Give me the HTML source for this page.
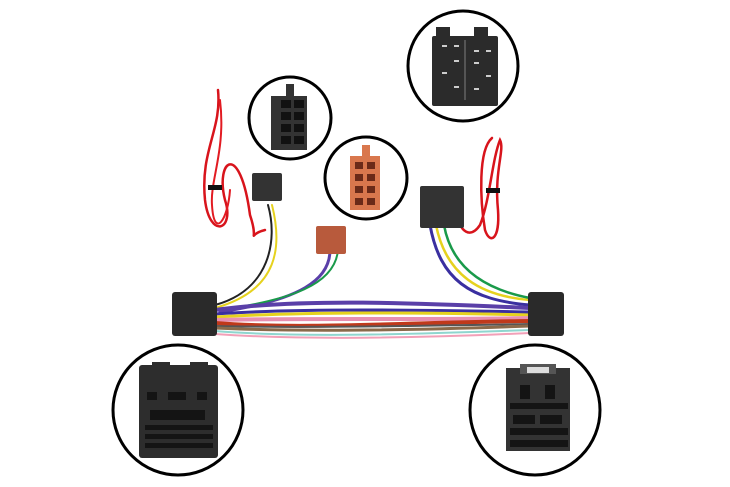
<!DOCTYPE html>
<html><head><style>body{margin:0;background:#fff}svg{display:block}</style></head><body>
<svg width="730" height="487" viewBox="0 0 730 487" xmlns="http://www.w3.org/2000/svg">
<rect width="730" height="487" fill="#fff"/>
<g fill="none" stroke-linecap="round">
<path d="M218 90 C222 130 200 150 205 200 C210 240 235 230 225 200 C215 160 240 140 250 215 C260 245 245 235 265 230" stroke="#d8141c" stroke-width="2.5"/>
<path d="M220 100 C226 150 210 180 212 205 C214 240 228 220 230 190" stroke="#e21b22" stroke-width="2"/>
<path d="M492 138 C478 150 480 200 485 230 C490 245 500 240 498 210 C494 170 505 150 500 140 C492 160 490 200 480 225 C470 240 460 230 458 218" stroke="#d8141c" stroke-width="2.5"/>
<path d="M268 205 C278 240 270 290 215 305" stroke="#222" stroke-width="2"/>
<path d="M272 205 C282 245 280 290 215 308" stroke="#e6d21e" stroke-width="2"/>
<path d="M330 250 C330 280 300 300 220 312" stroke="#5a3fa8" stroke-width="3"/>
<path d="M338 250 C335 285 290 300 220 310" stroke="#1a9a4a" stroke-width="2"/>
<path d="M430 225 C440 280 470 300 530 305" stroke="#3a2fa0" stroke-width="3"/>
<path d="M436 225 C446 275 480 296 530 300" stroke="#e6d21e" stroke-width="2.5"/>
<path d="M444 225 C452 270 488 290 530 298" stroke="#1a9a4a" stroke-width="2.5"/>
<path d="M215 310 C300 298 420 303 530 308" stroke="#5a3fa8" stroke-width="4"/>
<path d="M215 314 C300 308 420 310 530 312" stroke="#3a2fa0" stroke-width="3"/>
<path d="M215 317 C300 312 420 312 530 315" stroke="#e6d21e" stroke-width="3"/>
<path d="M215 320 C300 318 420 320 530 318" stroke="#e88fb0" stroke-width="4"/>
<path d="M215 323 C300 330 420 322 530 321" stroke="#c0391b" stroke-width="4"/>
<path d="M215 326 C300 328 420 326 530 324" stroke="#555" stroke-width="2"/>
<path d="M215 328 C300 332 420 330 530 326" stroke="#8a6a4a" stroke-width="3"/>
<path d="M215 331 C300 338 420 334 530 330" stroke="#8fd6cf" stroke-width="2"/>
<path d="M215 334 C300 340 420 338 530 333" stroke="#f2a0b8" stroke-width="2"/>
</g>
<rect x="208" y="185" width="14" height="5" fill="#111"/>
<rect x="486" y="188" width="14" height="5" fill="#111"/>
<rect x="172" y="292" width="45" height="44" rx="3" fill="#2a2a2a"/>
<rect x="528" y="292" width="36" height="44" rx="3" fill="#2a2a2a"/>
<rect x="252" y="173" width="30" height="28" rx="2" fill="#333"/>
<rect x="420" y="186" width="44" height="42" rx="2" fill="#333"/>
<rect x="316" y="226" width="30" height="28" rx="2" fill="#b85a3c"/>
<circle cx="463" cy="66" r="55" fill="#fff" stroke="#000" stroke-width="3"/>
<rect x="432" y="36" width="66" height="70" rx="2" fill="#2b2b2b"/>
<rect x="436" y="27" width="14" height="12" fill="#2b2b2b"/><rect x="474" y="27" width="14" height="12" fill="#2b2b2b"/>
<line x1="465" y1="40" x2="465" y2="100" stroke="#555" stroke-width="2"/>
<g fill="#ccc"><rect x="442" y="45" width="5" height="2"/><rect x="454" y="45" width="5" height="2"/><rect x="474" y="50" width="5" height="2"/><rect x="486" y="50" width="5" height="2"/><rect x="454" y="60" width="5" height="2"/><rect x="474" y="62" width="5" height="2"/><rect x="442" y="72" width="5" height="2"/><rect x="486" y="75" width="5" height="2"/><rect x="454" y="86" width="5" height="2"/><rect x="474" y="88" width="5" height="2"/></g>
<circle cx="290" cy="118" r="41" fill="#fff" stroke="#000" stroke-width="3"/>
<rect x="271" y="96" width="36" height="54" fill="#333"/>
<rect x="286" y="84" width="8" height="14" fill="#333"/>
<g fill="#111"><rect x="281" y="100" width="10" height="8"/><rect x="294" y="100" width="10" height="8"/><rect x="281" y="112" width="10" height="8"/><rect x="294" y="112" width="10" height="8"/><rect x="281" y="124" width="10" height="8"/><rect x="294" y="124" width="10" height="8"/><rect x="281" y="136" width="10" height="8"/><rect x="294" y="136" width="10" height="8"/></g>
<circle cx="366" cy="178" r="41" fill="#fff" stroke="#000" stroke-width="3"/>
<rect x="350" y="156" width="30" height="54" fill="#d9774d"/>
<rect x="362" y="145" width="8" height="13" fill="#d9774d"/>
<g fill="#6b2a18"><rect x="355" y="162" width="8" height="7"/><rect x="367" y="162" width="8" height="7"/><rect x="355" y="174" width="8" height="7"/><rect x="367" y="174" width="8" height="7"/><rect x="355" y="186" width="8" height="7"/><rect x="367" y="186" width="8" height="7"/><rect x="355" y="198" width="8" height="7"/><rect x="367" y="198" width="8" height="7"/></g>
<circle cx="178" cy="410" r="65" fill="#fff" stroke="#000" stroke-width="3"/>
<rect x="139" y="365" width="79" height="93" rx="3" fill="#2d2d2d"/>
<rect x="152" y="362" width="18" height="8" fill="#2d2d2d"/><rect x="190" y="362" width="18" height="8" fill="#2d2d2d"/>
<g fill="#141414"><rect x="145" y="425" width="68" height="5"/><rect x="145" y="434" width="68" height="5"/><rect x="145" y="443" width="68" height="5"/><rect x="150" y="410" width="55" height="10"/><rect x="147" y="392" width="10" height="8"/><rect x="168" y="392" width="18" height="8"/><rect x="197" y="392" width="10" height="8"/></g>
<circle cx="535" cy="410" r="65" fill="#fff" stroke="#000" stroke-width="3"/>
<rect x="506" y="368" width="64" height="83" fill="#333"/>
<rect x="520" y="364" width="36" height="10" fill="#555"/><rect x="527" y="367" width="22" height="6" fill="#ddd"/>
<g fill="#141414"><rect x="520" y="385" width="10" height="14"/><rect x="545" y="385" width="10" height="14"/><rect x="510" y="403" width="58" height="6"/><rect x="513" y="415" width="22" height="9"/><rect x="540" y="415" width="22" height="9"/><rect x="510" y="428" width="58" height="7"/><rect x="510" y="440" width="58" height="7"/></g>
</svg>
</body></html>
